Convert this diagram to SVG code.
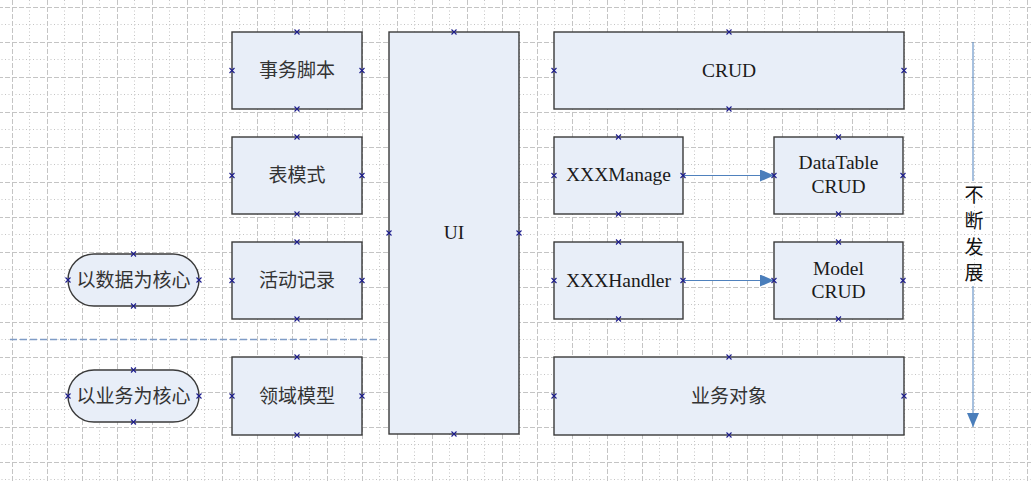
<svg xmlns="http://www.w3.org/2000/svg" xmlns:xlink="http://www.w3.org/1999/xlink" width="1031" height="482" viewBox="0 0 1031 482">
<style>
.box{fill:#e8eef8;stroke:#3a3a3a;stroke-width:1.4}
.zh{font-family:"Noto Sans CJK SC","Noto Sans",sans-serif;font-size:19px;fill:#333;text-anchor:middle}
.en{font-family:"Liberation Serif","Times New Roman",serif;font-size:19.5px;fill:#1a1a1a;text-anchor:middle}
.cn{fill:none;stroke:#4f81bd;stroke-width:1}
.gd{stroke:#c4c4c4;stroke-width:1;stroke-dasharray:5 2}
.gt{stroke:#c4c4c4;stroke-width:1;stroke-dasharray:1 2.5}
</style>
<defs>
<pattern id="grid" patternUnits="userSpaceOnUse" x="12" y="7" width="35" height="35">
<line class="gt" x1="17.5" y1="0" x2="17.5" y2="35"/>
<line class="gt" x1="0" y1="17.5" x2="35" y2="17.5"/>
<line class="gd" x1="0.5" y1="0" x2="0.5" y2="35"/>
<line class="gd" x1="0" y1="0.5" x2="35" y2="0.5"/>
</pattern>
<path id="cx" d="M-2.5,-2.5L2.5,2.5M-2.5,2.5L2.5,-2.5" stroke="#1c1c8c" stroke-width="1.1" fill="none"/>
<marker id="ah" viewBox="0 0 14 12" refX="14" refY="6" markerWidth="14" markerHeight="12" markerUnits="userSpaceOnUse" orient="auto">
<path d="M0,0L14,6L0,12Z" fill="#4a7ebb"/>
</marker>
</defs>
<rect width="1031" height="482" fill="#fff"/>
<rect width="1031" height="482" fill="url(#grid)"/>

<g id="connectors">
<line x1="10" y1="339.5" x2="380" y2="339.5" stroke="#7f9cc6" stroke-width="1.5" stroke-dasharray="7 3"/>
<line class="cn" x1="683" y1="175.5" x2="774" y2="175.5" marker-end="url(#ah)"/>
<line class="cn" x1="683" y1="280.5" x2="774" y2="280.5" marker-end="url(#ah)"/>
<line class="cn" x1="973" y1="42" x2="973" y2="181"/>
<line class="cn" x1="973" y1="286" x2="973" y2="427" marker-end="url(#ah)"/>
</g>

<g id="n-shiwu">
<rect class="box" x="232" y="32" width="130" height="77"/>
<text class="zh" x="297" y="77">事务脚本</text>
<use xlink:href="#cx" x="297" y="32"/><use xlink:href="#cx" x="297" y="109"/><use xlink:href="#cx" x="232" y="70.5"/><use xlink:href="#cx" x="362" y="70.5"/>
</g>
<g id="n-biao">
<rect class="box" x="232" y="137" width="130" height="77"/>
<text class="zh" x="297" y="182">表模式</text>
<use xlink:href="#cx" x="297" y="137"/><use xlink:href="#cx" x="297" y="214"/><use xlink:href="#cx" x="232" y="175.5"/><use xlink:href="#cx" x="362" y="175.5"/>
</g>
<g id="n-huodong">
<rect class="box" x="232" y="242" width="130" height="77"/>
<text class="zh" x="297" y="287">活动记录</text>
<use xlink:href="#cx" x="297" y="242"/><use xlink:href="#cx" x="297" y="319"/><use xlink:href="#cx" x="232" y="280.5"/><use xlink:href="#cx" x="362" y="280.5"/>
</g>
<g id="n-lingyu">
<rect class="box" x="232" y="357" width="130" height="78"/>
<text class="zh" x="297" y="403">领域模型</text>
<use xlink:href="#cx" x="297" y="357"/><use xlink:href="#cx" x="297" y="435"/><use xlink:href="#cx" x="232" y="396"/><use xlink:href="#cx" x="362" y="396"/>
</g>
<g id="n-ui">
<rect class="box" x="389" y="32" width="130" height="402"/>
<text class="en" x="454" y="239">UI</text>
<use xlink:href="#cx" x="454" y="32"/><use xlink:href="#cx" x="454" y="434"/><use xlink:href="#cx" x="389" y="233"/><use xlink:href="#cx" x="519" y="233"/>
</g>
<g id="n-crud">
<rect class="box" x="554" y="32" width="350" height="77"/>
<text class="en" x="729" y="77">CRUD</text>
<use xlink:href="#cx" x="729" y="32"/><use xlink:href="#cx" x="729" y="109"/><use xlink:href="#cx" x="554" y="70.5"/><use xlink:href="#cx" x="904" y="70.5"/>
</g>
<g id="n-manage">
<rect class="box" x="554" y="137" width="129" height="77"/>
<text class="en" x="618.5" y="181">XXXManage</text>
<use xlink:href="#cx" x="618.5" y="137"/><use xlink:href="#cx" x="618.5" y="214"/><use xlink:href="#cx" x="554" y="175.5"/><use xlink:href="#cx" x="683" y="175.5"/>
</g>
<g id="n-datatable">
<rect class="box" x="774" y="137" width="129" height="77"/>
<text class="en" x="838.5" y="169">DataTable</text>
<text class="en" x="838.5" y="193">CRUD</text>
<use xlink:href="#cx" x="838.5" y="137"/><use xlink:href="#cx" x="838.5" y="214"/><use xlink:href="#cx" x="774" y="175.5"/><use xlink:href="#cx" x="903" y="175.5"/>
</g>
<g id="n-handler">
<rect class="box" x="554" y="242" width="129" height="77"/>
<text class="en" x="618.5" y="287">XXXHandler</text>
<use xlink:href="#cx" x="618.5" y="242"/><use xlink:href="#cx" x="618.5" y="319"/><use xlink:href="#cx" x="554" y="280.5"/><use xlink:href="#cx" x="683" y="280.5"/>
</g>
<g id="n-model">
<rect class="box" x="774" y="242" width="129" height="77"/>
<text class="en" x="838.5" y="275">Model</text>
<text class="en" x="838.5" y="298">CRUD</text>
<use xlink:href="#cx" x="838.5" y="242"/><use xlink:href="#cx" x="838.5" y="319"/><use xlink:href="#cx" x="774" y="280.5"/><use xlink:href="#cx" x="903" y="280.5"/>
</g>
<g id="n-yewu">
<rect class="box" x="554" y="357" width="350" height="78"/>
<text class="zh" x="729" y="403">业务对象</text>
<use xlink:href="#cx" x="729" y="357"/><use xlink:href="#cx" x="729" y="435"/><use xlink:href="#cx" x="554" y="396"/><use xlink:href="#cx" x="904" y="396"/>
</g>
<g id="n-data-core">
<rect class="box" x="68" y="254" width="131" height="52" rx="26" ry="26"/>
<text class="zh" x="133.5" y="287">以数据为核心</text>
<use xlink:href="#cx" x="133.5" y="254"/><use xlink:href="#cx" x="133.5" y="306"/><use xlink:href="#cx" x="68" y="280"/><use xlink:href="#cx" x="199" y="280"/>
</g>
<g id="n-biz-core">
<rect class="box" x="68" y="370" width="131" height="52" rx="26" ry="26"/>
<text class="zh" x="133.5" y="403">以业务为核心</text>
<use xlink:href="#cx" x="133.5" y="370"/><use xlink:href="#cx" x="133.5" y="422"/><use xlink:href="#cx" x="68" y="396"/><use xlink:href="#cx" x="199" y="396"/>
</g>
<g id="n-develop">
<text class="zh" style="fill:#111" x="974" y="202">不</text>
<text class="zh" style="fill:#111" x="974" y="228">断</text>
<text class="zh" style="fill:#111" x="974" y="254">发</text>
<text class="zh" style="fill:#111" x="974" y="280">展</text>
</g>
</svg>
